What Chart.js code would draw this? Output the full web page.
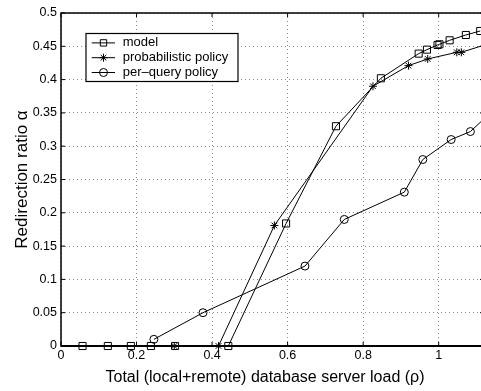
<!DOCTYPE html>
<html>
<head>
<meta charset="utf-8">
<script src="https://cdn.jsdelivr.net/npm/chart.js@4/dist/chart.umd.min.js"></script>
<style>
  html, body { margin: 0; padding: 0; background: #fff; overflow: hidden; }
  #wrap { width: 481px; height: 391px; overflow: hidden; position: relative; }
  canvas { display: block; }
</style>
</head>
<body>
<div id="wrap"><canvas id="c" width="530" height="391"></canvas></div>
<script>
// Redirection ratio versus total database server load
const modelLoad  = [0.057, 0.124, 0.185, 0.238, 0.302, 0.443, 0.596, 0.728, 0.847, 0.947, 0.969, 0.997, 1.002, 1.029, 1.072, 1.110];
const modelRatio = [0, 0, 0, 0, 0, 0, 0.184, 0.330, 0.402, 0.439, 0.445, 0.452, 0.453, 0.459, 0.467, 0.473];

const probLoad  = [0.300, 0.417, 0.565, 0.826, 0.920, 0.971, 1.048, 1.060, 1.150];
const probRatio = [0, 0, 0.181, 0.390, 0.421, 0.431, 0.441, 0.441, 0.457];

const queryLoad  = [0.246, 0.376, 0.646, 0.750, 0.909, 0.958, 1.033, 1.084, 1.150];
const queryRatio = [0.010, 0.050, 0.120, 0.190, 0.231, 0.280, 0.310, 0.322, 0.357];

const xTicks = [0, 0.2, 0.4, 0.6, 0.8, 1];
const yTicks = [0, 0.05, 0.1, 0.15, 0.2, 0.25, 0.3, 0.35, 0.4, 0.45, 0.5];

const seriesNames = ['model', 'probabilistic policy', 'per\u2013query policy'];
const xTitle = 'Total (local+remote) database server load (\u03c1)';
const yTitle = 'Redirection ratio \u03b1';

const FONT = '"Liberation Sans", Arial, Helvetica, sans-serif';

const pairs = (xs, ys) => xs.map((x, i) => ({ x: x, y: ys[i] }));

const baseStyle = {
  borderColor: '#000',
  borderWidth: 1,
  pointBorderColor: '#000',
  pointBackgroundColor: 'rgba(0,0,0,0)',
  pointBorderWidth: 1,
  fill: false,
  tension: 0,
  clip: false,
  showLine: true
};

const datasets = [
  { label: seriesNames[0], data: pairs(modelLoad, modelRatio), pointStyle: 'rect', pointRadius: 5 },
  { label: seriesNames[1], data: pairs(probLoad, probRatio), pointStyle: 'star', pointRadius: 4 },
  { label: seriesNames[2], data: pairs(queryLoad, queryRatio), pointStyle: 'circle', pointRadius: 4 }
].map(d => Object.assign({}, baseStyle, d, { pointHoverRadius: d.pointRadius }));

// Axis box with inward tick marks
const frame = {
  id: 'frame',
  afterDatasetsDraw(chart) {
    const { ctx, chartArea: a, scales } = chart;
    const x = scales.x, y = scales.y;
    ctx.save();
    ctx.strokeStyle = '#000';
    ctx.lineWidth = 1.5;
    ctx.strokeRect(a.left, a.top, a.right - a.left, a.bottom - a.top);
    ctx.lineWidth = 2;
    ctx.beginPath();
    ctx.moveTo(a.left, a.bottom);
    ctx.lineTo(a.right, a.bottom);
    ctx.stroke();
    ctx.lineWidth = 1;
    ctx.beginPath();
    xTicks.forEach(v => {
      const px = x.getPixelForValue(v);
      ctx.moveTo(px, a.bottom); ctx.lineTo(px, a.bottom - 4);
      ctx.moveTo(px, a.top);    ctx.lineTo(px, a.top + 4);
    });
    yTicks.forEach(v => {
      const py = y.getPixelForValue(v);
      ctx.moveTo(a.left, py);  ctx.lineTo(a.left + 4, py);
      ctx.moveTo(a.right, py); ctx.lineTo(a.right - 4, py);
    });
    ctx.stroke();
    ctx.restore();
  }
};

// Boxed legend inside the plot, line sample with marker
const boxLegend = {
  id: 'boxLegend',
  afterDraw(chart) {
    const { ctx, chartArea: a } = chart;
    const x0 = a.left + 25, y0 = a.top + 20.5, w = 152, h = 48;
    ctx.save();
    ctx.fillStyle = '#fff';
    ctx.fillRect(x0, y0, w, h);
    ctx.strokeStyle = '#000';
    ctx.lineWidth = 1.2;
    ctx.strokeRect(x0, y0, w, h);
    ctx.font = '13px ' + FONT;
    ctx.textBaseline = 'middle';
    ctx.textAlign = 'left';
    chart.data.datasets.forEach((ds, i) => {
      const cy = y0 + 9.4 + i * 14.8;
      ctx.lineWidth = 1;
      ctx.strokeStyle = '#000';
      ctx.beginPath();
      ctx.moveTo(x0 + 5.7, cy);
      ctx.lineTo(x0 + 29, cy);
      ctx.stroke();
      ctx.fillStyle = 'rgba(0,0,0,0)';
      Chart.helpers.drawPoint(ctx, {
        pointStyle: ds.pointStyle,
        radius: ds.pointStyle === 'rect' ? 4.5 : ds.pointRadius,
        borderWidth: 1,
        rotation: 0
      }, x0 + 17.5, cy);
      ctx.fillStyle = '#000';
      ctx.fillText(ds.label, x0 + 36.7, cy);
    });
    ctx.restore();
  }
};

const tickFont = { family: FONT, size: 12.5 };
const gridStyle = { color: 'rgba(0,0,0,0.45)', lineWidth: 1, drawTicks: false };
const fmt = v => String(Number(v.toFixed(2)));

new Chart(document.getElementById('c'), {
  type: 'line',
  data: { datasets: datasets },
  plugins: [frame, boxLegend],
  options: {
    responsive: false,
    animation: false,
    events: [],
    layout: { padding: { top: 13, left: 0, right: 0, bottom: 0 } },
    plugins: {
      legend: { display: false },
      tooltip: { enabled: false },
      title: {
        display: true,
        position: 'bottom',
        text: xTitle,
        color: '#000',
        font: { family: FONT, size: 16, weight: 'normal' },
        padding: { top: 4, bottom: 4 }
      }
    },
    scales: {
      x: {
        type: 'linear',
        min: 0,
        max: 1.12,
        afterBuildTicks: s => { s.ticks = xTicks.map(v => ({ value: v })); },
        afterFit: s => { s.height = 17.8; },
        ticks: { color: '#000', font: tickFont, padding: 2, maxRotation: 0, autoSkip: false, callback: fmt },
        grid: gridStyle,
        border: { display: false, dash: [1, 3] }
      },
      y: {
        type: 'linear',
        position: 'left',
        min: 0,
        max: 0.5,
        afterBuildTicks: s => { s.ticks = yTicks.map(v => ({ value: v })); },
        afterFit: s => { s.width = 61; },
        ticks: { color: '#000', font: tickFont, padding: 4, autoSkip: false, callback: fmt },
        grid: gridStyle,
        border: { display: false, dash: [1, 3] },
        title: {
          display: true,
          text: yTitle,
          color: '#000',
          font: { family: FONT, size: 17, weight: 'normal' },
          padding: { top: 12, bottom: 0 }
        }
      },
      y2: {
        type: 'linear',
        position: 'right',
        min: 0,
        max: 0.5,
        afterFit: s => { s.width = 46; },
        ticks: { display: false },
        grid: { display: false, drawOnChartArea: false, drawTicks: false },
        border: { display: false }
      }
    }
  }
});
</script>
</body>
</html>
